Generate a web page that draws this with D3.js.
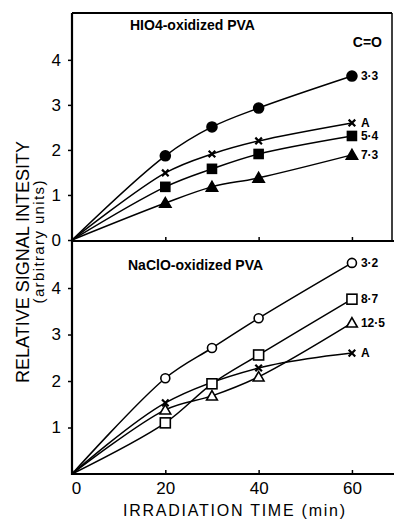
<!DOCTYPE html>
<html>
<head>
<meta charset="utf-8">
<script src="https://cdn.jsdelivr.net/npm/d3@7"></script>
<style>
  body { margin: 0; background: #fff; }
  svg { display: block; }
  text { font-family: "Liberation Sans", Arial, sans-serif; fill: #000; }
</style>
</head>
<body>
<svg id="chart" width="394" height="520"></svg>
<script>
// irradiation times (min)
const times = [20, 30, 40, 60];
const timesLowA = [20, 40, 60];
const xTicks = [0, 20, 40, 60];
const yTicksTop = [0, 1, 2, 3, 4];
const yTicksBot = [1, 2, 3, 4];

// HIO4-oxidized PVA, C=O content
const hio4Names = ["3·3", "A", "5·4", "7·3"];
const hio4_33 = [1.87, 2.51, 2.93, 3.64];
const hio4_A = [1.49, 1.91, 2.20, 2.60];
const hio4_54 = [1.18, 1.58, 1.91, 2.31];
const hio4_73 = [0.82, 1.18, 1.38, 1.89];

// NaClO-oxidized PVA
const naclNames = ["3·2", "8·7", "12·5", "A"];
const nacl_32 = [2.06, 2.71, 3.35, 4.54];
const nacl_87 = [1.10, 1.94, 2.56, 3.76];
const nacl_125 = [1.38, 1.68, 2.09, 3.25];
const nacl_A = [1.53, 2.28, 2.60];

const svg = d3.select("#chart");

let x = d3.scaleLinear().domain([0, 68.8]).range([72, 393]);
let yTop = d3.scaleLinear().domain([0, 5.04]).range([240, 13]);
let yBot = d3.scaleLinear().domain([0, 4.99]).range([474, 242]);

// series: values, times, marker shape, filled?
let topSeries = [
  { name: hio4Names[0], t: times, v: hio4_33, shape: "circle", fill: true },
  { name: hio4Names[1], t: times, v: hio4_A, shape: "cross", fill: true },
  { name: hio4Names[2], t: times, v: hio4_54, shape: "square", fill: true },
  { name: hio4Names[3], t: times, v: hio4_73, shape: "triangle", fill: true }
];
let botSeries = [
  { name: naclNames[0], t: times, v: nacl_32, shape: "circle", fill: false },
  { name: naclNames[1], t: times, v: nacl_87, shape: "square", fill: false },
  { name: naclNames[2], t: times, v: nacl_125, shape: "triangle", fill: false },
  { name: naclNames[3], t: timesLowA, v: nacl_A, shape: "cross", fill: false }
];

function drawMarker(g, shape, fill, cx, cy) {
  let fc = fill ? "#000" : "#fff";
  if (shape == "circle") {
    g.append("circle").attr("cx", cx).attr("cy", cy)
      .attr("r", fill ? 5 : 4.5)
      .attr("fill", fc).attr("stroke", "#000").attr("stroke-width", 1.6);
  } else if (shape == "square") {
    let s = fill ? 9 : 10;
    g.append("rect").attr("x", cx - s / 2).attr("y", cy - s / 2)
      .attr("width", s).attr("height", s)
      .attr("fill", fc).attr("stroke", "#000").attr("stroke-width", 1.6);
  } else if (shape == "triangle") {
    g.append("path")
      .attr("d", d3.symbol(d3.symbolTriangle, fill ? 55 : 50)())
      .attr("transform", "translate(" + cx + "," + (cy + 1) + ")")
      .attr("fill", fc).attr("stroke", "#000").attr("stroke-width", 1.6);
  } else {
    g.append("path")
      .attr("d", d3.symbol(d3.symbolX, 30)())
      .attr("transform", "translate(" + cx + "," + cy + ")")
      .attr("fill", "none").attr("stroke", "#000").attr("stroke-width", 2.2);
  }
}

function drawPanel(series, y, yTicks, labelDx, curve) {
  let g = svg.append("g");
  let line = d3.line()
    .x(d => x(d[0]))
    .y(d => y(d[1]))
    .curve(curve);

  series.forEach(function (s) {
    let pts = [[0, 0]].concat(s.t.map((t, i) => [t, s.v[i]]));
    g.append("path")
      .attr("d", line(pts))
      .attr("fill", "none")
      .attr("stroke", "#000")
      .attr("stroke-width", 1.5);
  });
  series.forEach(function (s) {
    s.t.forEach(function (t, i) {
      drawMarker(g, s.shape, s.fill, x(t), y(s.v[i]));
    });
    let last = s.t.length - 1;
    g.append("text")
      .attr("x", x(s.t[last]) + labelDx)
      .attr("y", y(s.v[last]))
      .attr("dy", "0.34em")
      .attr("font-size", 12)
      .attr("font-weight", "bold")
      .text(s.name);
  });

  // y axis with outward ticks
  let yAxis = d3.axisLeft(y).tickValues(yTicks).tickSize(4).tickPadding(7)
    .tickFormat(d3.format("d"));
  let ga = svg.append("g")
    .attr("transform", "translate(72,0)")
    .call(yAxis);
  ga.select(".domain").remove();
  ga.selectAll("line").attr("stroke-width", 1.5);
  ga.selectAll("text")
    .attr("font-size", 17)
    .style("font-family", "Liberation Sans, Arial, sans-serif");
  return g;
}

drawPanel(topSeries, yTop, yTicksTop, 9, d3.curveCatmullRom.alpha(0.5));
drawPanel(botSeries, yBot, yTicksBot, 9, d3.curveCatmullRom.alpha(0.5));

// frame lines
let frame = svg.append("g").attr("stroke", "#000").attr("fill", "none");
frame.append("line").attr("x1", 72).attr("x2", 392).attr("y1", 13).attr("y2", 13).attr("stroke-width", 2);
frame.append("line").attr("x1", 392).attr("x2", 392).attr("y1", 13).attr("y2", 241).attr("stroke-width", 1.5);
frame.append("line").attr("x1", 72).attr("x2", 72).attr("y1", 13).attr("y2", 475).attr("stroke-width", 2.2);

// x axes: ticks pointing up
let xAxisTop = d3.axisBottom(x).tickValues(xTicks.slice(1)).tickSizeInner(-4).tickSizeOuter(0).tickFormat("");
let gxt = svg.append("g").attr("transform", "translate(0,241)").call(xAxisTop);
gxt.select(".domain").attr("d", "M72,0H394").attr("stroke-width", 2.2);
gxt.selectAll("line").attr("stroke-width", 1.5);

let xAxisBot = d3.axisBottom(x).tickValues(xTicks).tickSizeInner(-4).tickSizeOuter(0).tickPadding(8)
  .tickFormat(d3.format("d"));
let gxb = svg.append("g").attr("transform", "translate(0,474)").call(xAxisBot);
gxb.select(".domain").attr("d", "M72,0H394").attr("stroke-width", 2.2);
gxb.selectAll("line").attr("stroke-width", 1.5);
gxb.selectAll("text")
  .attr("font-size", 17)
  .style("font-family", "Liberation Sans, Arial, sans-serif");
gxb.selectAll(".tick").filter(d => d == 0).select("text").attr("dx", 4);

// panel titles
svg.append("text").attr("x", 130).attr("y", 30)
  .attr("font-size", 14).attr("font-weight", "bold")
  .text("HIO4-oxidized PVA");
svg.append("text").attr("x", 382).attr("y", 47).attr("text-anchor", "end")
  .attr("font-size", 14).attr("font-weight", "bold")
  .text("C=O");
svg.append("text").attr("x", 128).attr("y", 270)
  .attr("font-size", 14).attr("font-weight", "bold")
  .text("NaClO-oxidized PVA");

// axis titles
svg.append("text")
  .attr("transform", "translate(29,262) rotate(-90)")
  .attr("text-anchor", "middle")
  .attr("font-size", 18)
  .attr("textLength", 242).attr("lengthAdjust", "spacing")
  .text("RELATIVE  SIGNAL  INTESITY");
svg.append("text")
  .attr("transform", "translate(44,242) rotate(-90)")
  .attr("text-anchor", "middle")
  .attr("font-size", 15)
  .attr("textLength", 123).attr("lengthAdjust", "spacing")
  .text("(arbitrary   units)");
svg.append("text")
  .attr("x", 234).attr("y", 516)
  .attr("text-anchor", "middle")
  .attr("font-size", 16)
  .attr("textLength", 222).attr("lengthAdjust", "spacing")
  .text("IRRADIATION  TIME (min)");
</script>
</body>
</html>
